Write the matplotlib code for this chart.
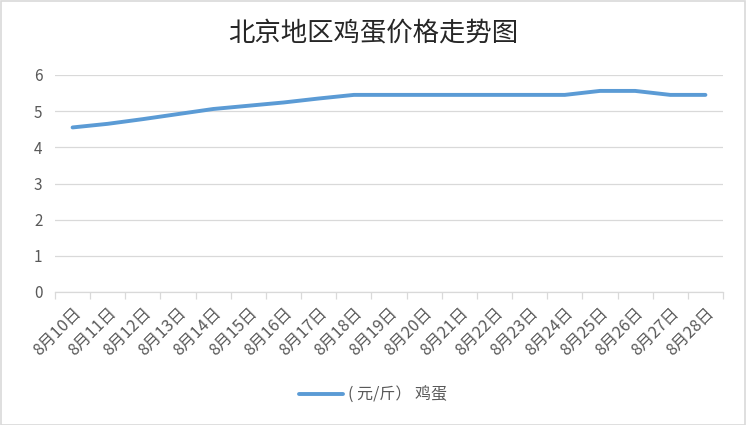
import matplotlib
matplotlib.use("Agg")
import matplotlib.pyplot as plt
from matplotlib.patches import Rectangle

plt.rcParams['font.family'] = ['Noto Sans CJK SC', 'DejaVu Sans']

dates = ["8月10日", "8月11日", "8月12日", "8月13日", "8月14日", "8月15日", "8月16日",
         "8月17日", "8月18日", "8月19日", "8月20日", "8月21日", "8月22日", "8月23日",
         "8月24日", "8月25日", "8月26日", "8月27日", "8月28日"]
prices = [4.55, 4.65, 4.78, 4.92, 5.06, 5.15, 5.24, 5.35, 5.45, 5.45, 5.45, 5.45,
          5.45, 5.45, 5.45, 5.56, 5.56, 5.45, 5.45]
series_name = "( 元/斤） 鸡蛋"
title = "北京地区鸡蛋价格走势图"
yticks = [0, 1, 2, 3, 4, 5, 6]

fig = plt.figure(figsize=(7.46, 4.25), dpi=100)
ax = fig.add_axes([55/746, 1-292/425, (723-55)/746, (292-75)/425])

x = list(range(len(dates)))
line, = ax.plot(x, prices, color="#5B9BD5", lw=2.8, solid_capstyle="round",
                solid_joinstyle="round", label=series_name, zorder=3)

ax.set_xlim(-0.5, len(dates) - 0.5)
ax.set_ylim(0, 6)
ax.set_yticks(yticks)
ax.set_yticklabels([str(v) for v in yticks], color="#595959", fontsize=11)
ax.grid(axis="y", color="#D9D9D9", lw=0.9)
ax.set_axisbelow(True)

ax.set_xticks(x)
ax.set_xticklabels(dates, rotation=45, ha="right", va="top", rotation_mode="anchor",
                   color="#595959", fontsize=11.8)
ax.tick_params(axis="x", which="major", length=0, pad=9)
ax.set_xticks([i - 0.5 for i in range(len(dates) + 1)], minor=True)
ax.tick_params(axis="x", which="minor", length=5, color="#D9D9D9", width=0.9)
ax.tick_params(axis="y", length=0, pad=9)

for s in ["top", "right", "left"]:
    ax.spines[s].set_visible(False)
ax.spines["bottom"].set_color("#D9D9D9")
ax.spines["bottom"].set_linewidth(0.9)

fig.text(0.5, 1 - 33/425, title, ha="center", va="center", fontsize=19,
         color="#262626")

fig.legend(handles=[line], labels=[series_name], loc="center",
           bbox_to_anchor=(0.5, 1 - 395/425), frameon=False, fontsize=11.5,
           labelcolor="#595959", handlelength=2.8, handletextpad=0.3)

fig.patches.append(Rectangle((0.5/746, 0.5/425), 1 - 1.5/746, 1 - 1.5/425,
                             transform=fig.transFigure, fill=False,
                             edgecolor="#D9D9D9", lw=1.2))

fig.savefig("out.png", dpi=100)
